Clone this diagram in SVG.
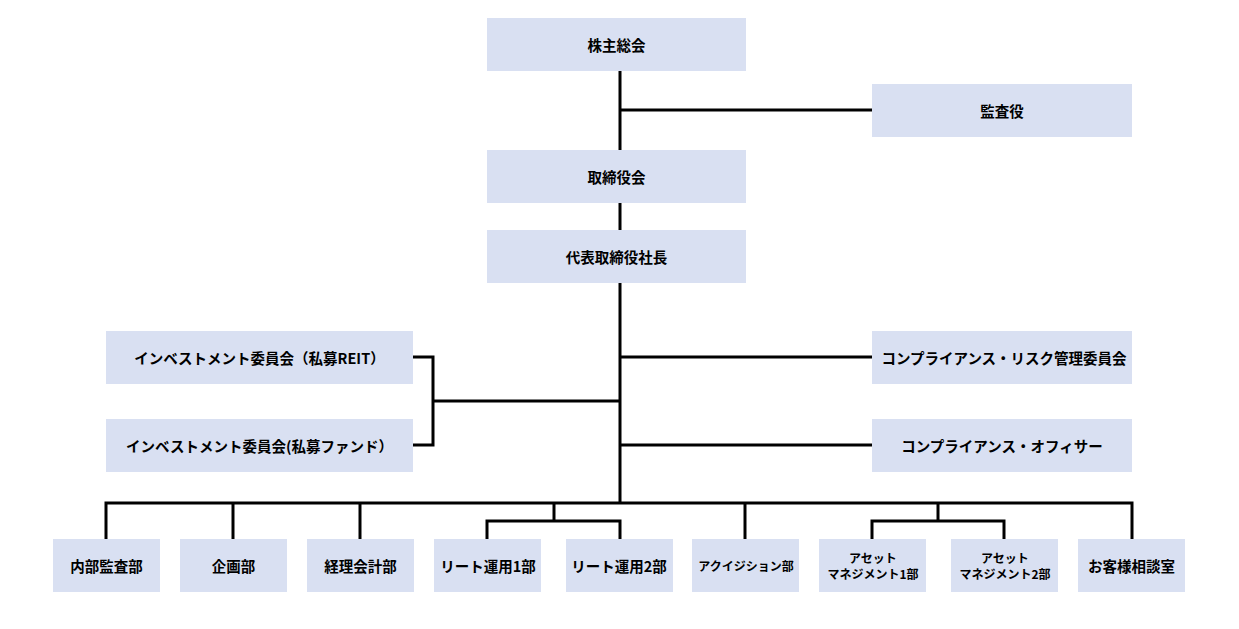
<svg xmlns="http://www.w3.org/2000/svg" width="1239" height="629" viewBox="0 0 1239 629">
<style>
.b{fill:#D9E0F2;}
.t{font-family:"Noto Sans CJK JP","Noto Sans",sans-serif;font-weight:bold;font-size:14.5px;fill:#000;text-anchor:middle;dominant-baseline:central;}
.s{font-size:12px;}
.c{fill:none;stroke:#000;stroke-width:3;stroke-linecap:butt;stroke-linejoin:miter;}
</style>
<rect width="1239" height="629" fill="#fff"/>
<g id="connectors" class="c">
<path d="M620,71V502"/>
<path d="M620,110H872"/>
<path d="M620,357H872"/>
<path d="M620,445H872"/>
<path d="M413,357H433V445H413"/>
<path d="M433,401H620"/>
<path d="M106,539V503H1132V539"/>
<path d="M233,503V539"/>
<path d="M360,503V539"/>
<path d="M554,503V521"/>
<path d="M487,539V521H620V539"/>
<path d="M745,503V539"/>
<path d="M938,503V521"/>
<path d="M872,539V521H1004V539"/>
</g>
<g id="n-kabunushi"><rect class="b" x="487" y="18" width="259" height="53"/><text class="t" x="616.5" y="44">株主総会</text></g>
<g id="n-kansayaku"><rect class="b" x="872" y="84" width="260" height="53"/><text class="t" x="1002" y="110">監査役</text></g>
<g id="n-torishimariyakukai"><rect class="b" x="487" y="150" width="259" height="53"/><text class="t" x="616.5" y="176">取締役会</text></g>
<g id="n-shacho"><rect class="b" x="487" y="230" width="259" height="53"/><text class="t" x="616.5" y="256">代表取締役社長</text></g>
<g id="n-inv-reit"><rect class="b" x="106" y="331" width="307" height="53"/><text class="t" x="259.5" y="357">インベストメント委員会（私募REIT）</text></g>
<g id="n-inv-fund"><rect class="b" x="106" y="419" width="307" height="53"/><text class="t" x="259.5" y="445">インベストメント委員会(私募ファンド）</text></g>
<g id="n-compliance-risk"><rect class="b" x="872" y="331" width="260" height="53"/><text class="t" x="1004" y="357">コンプライアンス・リスク管理委員会</text></g>
<g id="n-compliance-officer"><rect class="b" x="872" y="419" width="260" height="53"/><text class="t" x="1002" y="445">コンプライアンス・オフィサー</text></g>
<g id="n-naibu"><rect class="b" x="53" y="539" width="107" height="53"/><text class="t" x="106.5" y="565">内部監査部</text></g>
<g id="n-kikaku"><rect class="b" x="180" y="539" width="107" height="53"/><text class="t" x="233.5" y="565">企画部</text></g>
<g id="n-keiri"><rect class="b" x="307" y="539" width="107" height="53"/><text class="t" x="360.5" y="565">経理会計部</text></g>
<g id="n-reit1"><rect class="b" x="434" y="539" width="107" height="53"/><text class="t" x="488" y="565">リート運用1部</text></g>
<g id="n-reit2"><rect class="b" x="566" y="539" width="107" height="53"/><text class="t" x="619" y="565">リート運用2部</text></g>
<g id="n-acq"><rect class="b" x="692" y="539" width="107" height="53"/><text class="t s" x="746" y="565">アクイジション部</text></g>
<g id="n-am1"><rect class="b" x="819" y="539" width="107" height="53"/><text class="t s" x="873" y="557">アセット</text><text class="t s" x="873" y="573">マネジメント1部</text></g>
<g id="n-am2"><rect class="b" x="951" y="539" width="107" height="53"/><text class="t s" x="1005" y="557">アセット</text><text class="t s" x="1005" y="573">マネジメント2部</text></g>
<g id="n-okyakusama"><rect class="b" x="1078" y="539" width="107" height="53"/><text class="t" x="1131.5" y="565">お客様相談室</text></g>
</svg>
